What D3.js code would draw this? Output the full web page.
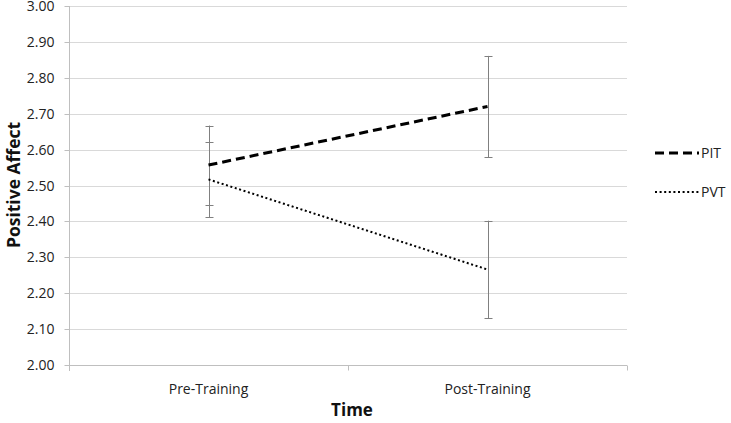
<!DOCTYPE html>
<html><head><meta charset="utf-8">
<script src="https://cdn.jsdelivr.net/npm/d3@7"></script>
<style>body{margin:0;background:#fff}svg{display:block}text{font-family:"Open Sans","Liberation Sans",sans-serif}</style>
</head><body><svg id="c" width="731" height="423"></svg>
<script>
const categories = ["Pre-Training", "Post-Training"];
const pitValues = [2.557, 2.72];
const pitErrors = [0.11, 0.141];
const pvtValues = [2.517, 2.266];
const pvtErrors = [0.105, 0.136];
const yTicks = [2.0, 2.1, 2.2, 2.3, 2.4, 2.5, 2.6, 2.7, 2.8, 2.9, 3.0];
const seriesNames = ["PIT", "PVT"];

const svg = d3.select("#c");
const L = 69, R = 627, T = 6, B = 365;
const x = d3.scaleBand().domain(categories).range([L, R]);
const y = d3.scaleLinear().domain([2, 3]).range([B, T]);

// grid
svg.append("g").selectAll("line").data(yTicks.slice(1)).join("line")
  .attr("x1", L).attr("x2", R).attr("y1", d => Math.round(y(d)) + 0.5).attr("y2", d => Math.round(y(d)) + 0.5)
  .attr("stroke", "#d9d9d9").attr("stroke-width", 1);

// y axis
const ya = svg.append("g").attr("transform", `translate(${L + 0.5},0)`)
  .call(d3.axisLeft(y).tickValues(yTicks).tickFormat(d3.format(".2f")).tickSize(5).tickPadding(10));
ya.select(".domain").attr("stroke", "#bfbfbf").attr("d", `M0,${B + 6}V${T}`);
ya.selectAll(".tick line").attr("stroke", "#bfbfbf");
ya.selectAll(".tick").attr("transform", d => `translate(0,${Math.round(y(d)) + 0.5})`);
ya.selectAll("text").attr("font-size", 14).attr("fill", "#222").attr("font-family", "Open Sans, sans-serif");

// x axis
const xa = svg.append("g").attr("transform", `translate(0,${B + 0.5})`);
xa.append("line").attr("x1", L).attr("x2", R).attr("stroke", "#bfbfbf");
xa.selectAll(".tk").data([L, (L + R) / 2, R]).join("line").attr("class", "tk")
  .attr("x1", d => Math.round(d) + 0.5).attr("x2", d => Math.round(d) + 0.5).attr("y1", 0).attr("y2", 5).attr("stroke", "#bfbfbf");
xa.selectAll("text").data(categories).join("text")
  .attr("x", d => x(d) + x.bandwidth() / 2).attr("y", 28).attr("text-anchor", "middle")
  .attr("font-size", 14).attr("fill", "#222").text(d => d);

// titles
svg.append("text").attr("x", 352).attr("y", 416).attr("text-anchor", "middle")
  .attr("font-size", 17).attr("font-weight", "bold").attr("fill", "#111").text("Time");
svg.append("text").attr("transform", `translate(20,185) rotate(-90)`).attr("text-anchor", "middle")
  .attr("font-size", 17.5).attr("font-weight", "bold").attr("fill", "#111").text("Positive Affect");

const cx = d => x(d) + x.bandwidth() / 2;

// error bars
function errBars(vals, errs) {
  const g = svg.append("g").attr("stroke", "#808080").attr("stroke-width", 1);
  categories.forEach((c, i) => {
    const px = Math.round(cx(c)) + 0.5;
    g.append("line").attr("x1", px).attr("x2", px).attr("y1", y(vals[i] + errs[i])).attr("y2", y(vals[i] - errs[i]));
    [vals[i] + errs[i], vals[i] - errs[i]].forEach(v => {
      g.append("line").attr("x1", px - 4).attr("x2", px + 4).attr("y1", Math.round(y(v)) + 0.5).attr("y2", Math.round(y(v)) + 0.5);
    });
  });
}
errBars(pitValues, pitErrors);
errBars(pvtValues, pvtErrors);

const line = d3.line().x((d, i) => cx(categories[i])).y(d => y(d));
svg.append("path").datum(pitValues).attr("d", line).attr("fill", "none")
  .attr("stroke", "#000").attr("stroke-width", 3).attr("stroke-dasharray", "9,5");
svg.append("path").datum(pvtValues).attr("d", line).attr("fill", "none")
  .attr("stroke", "#000").attr("stroke-width", 2).attr("stroke-dasharray", "2,2.6");

// legend
const lg = svg.append("g");
const legendY = [153, 192];
seriesNames.forEach((n, i) => {
  lg.append("line").attr("x1", 655).attr("x2", 699).attr("y1", legendY[i]).attr("y2", legendY[i])
    .attr("stroke", "#000").attr("stroke-width", i === 0 ? 3 : 2).attr("stroke-dasharray", i === 0 ? "9,5" : "2,2.6");
  lg.append("text").attr("x", 701).attr("y", legendY[i] + 5).attr("font-size", 14).attr("fill", "#222").text(n);
});
</script></body></html>
